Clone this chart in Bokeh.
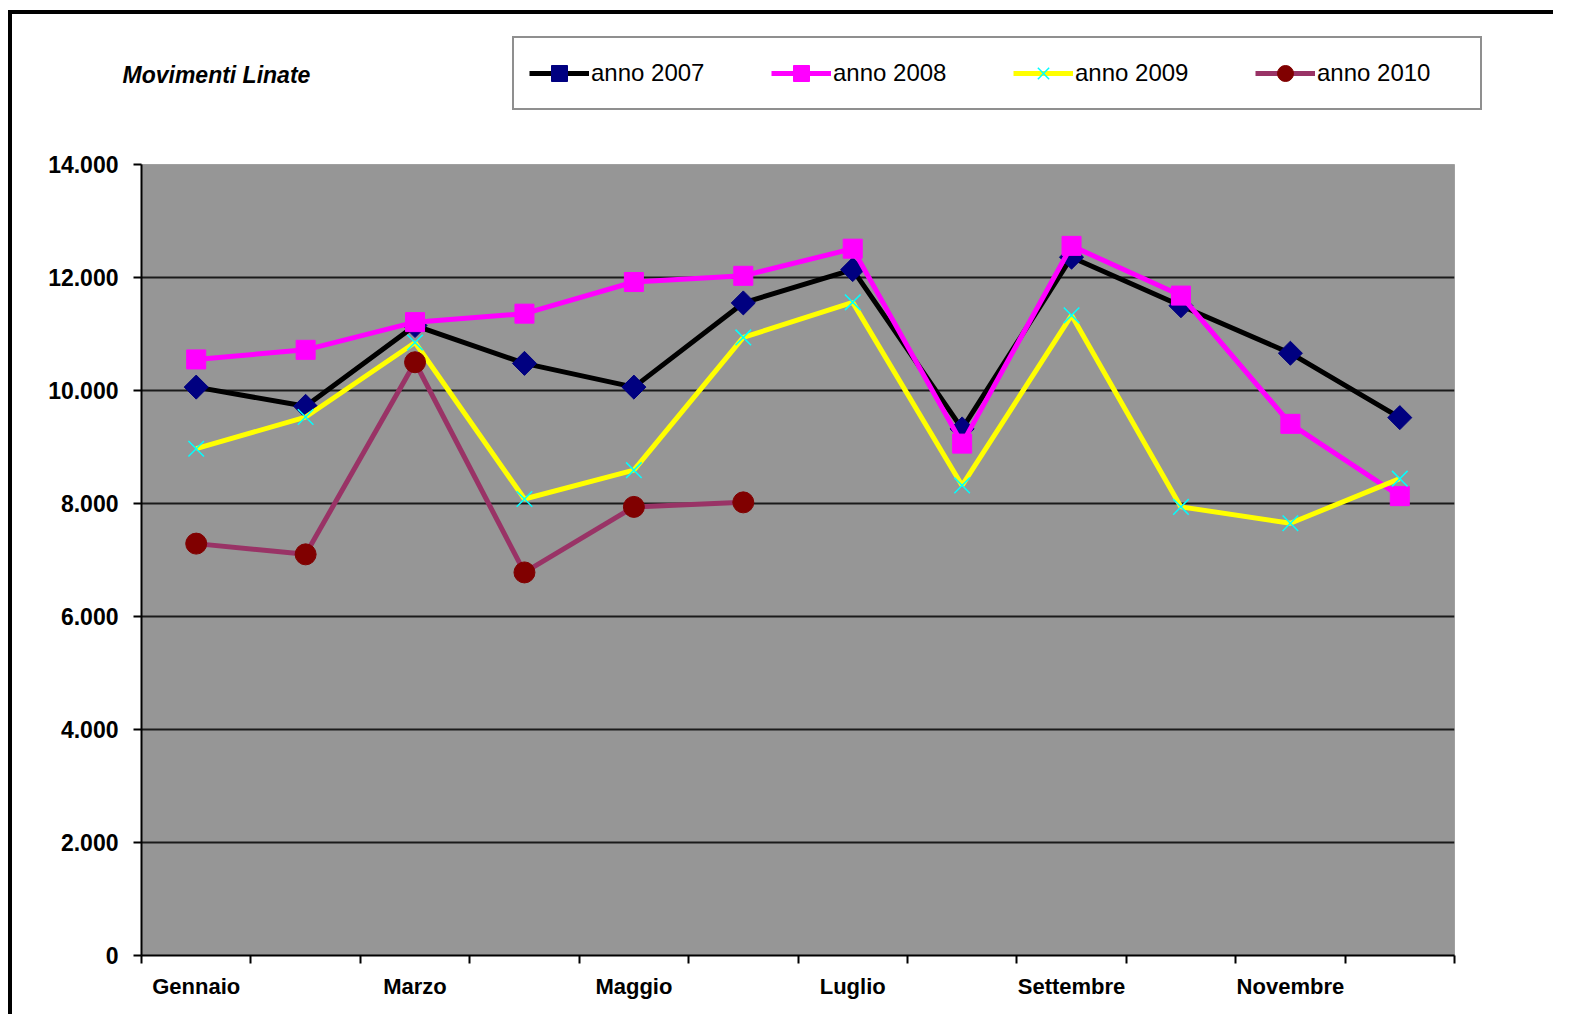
import numpy as np
from bokeh.plotting import figure
from bokeh.models import FixedTicker, Legend, LegendItem, Label, Range1d
from bokeh.embed import file_html
from bokeh.resources import INLINE

# ---- data ----
months = ["Gennaio", "Febbraio", "Marzo", "Aprile", "Maggio", "Giugno",
          "Luglio", "Agosto", "Settembre", "Ottobre", "Novembre", "Dicembre"]
shown_months = ["Gennaio", "Marzo", "Maggio", "Luglio", "Settembre", "Novembre"]
anno_2007 = [10060, 9720, 11150, 10480, 10060, 11550, 12140, 9320, 12360, 11500, 10660, 9520]
anno_2008 = [10550, 10720, 11210, 11360, 11920, 12030, 12510, 9060, 12560, 11680, 9410, 8130]
anno_2009 = [8970, 9530, 10850, 8080, 8590, 10940, 11560, 8320, 11330, 7940, 7650, 8440]
anno_2010 = [7290, 7100, 10500, 6780, 7940, 8020]
y_ticks = [0, 2000, 4000, 6000, 8000, 10000, 12000, 14000]
title_text = "Movimenti Linate"
series_labels = ["anno 2007", "anno 2008", "anno 2009", "anno 2010"]

x_pos = [i + 1 for i in range(len(months))]
FONT = "Liberation Sans"
W = 1545
HEAD_H = 120

series = [
    dict(y=anno_2007, line="black", marker="square", angle=np.pi / 4, size=17, fill="#000080", mline="#000080", lw=0),
    dict(y=anno_2008, line="#ff00ff", marker="square", angle=0, size=19, fill="#ff00ff", mline="#ff00ff", lw=0),
    dict(y=anno_2009, line="#ffff00", marker="x", angle=0, size=22, fill=None, mline="#00ffff", lw=1.5),
    dict(y=anno_2010, line="#993366", marker="circle", angle=0, size=21, fill="#800000", mline="#800000", lw=0),
]


def draw(fig, s):
    xs = x_pos[:len(s["y"])]
    ln = fig.line(xs, s["y"], line_color=s["line"], line_width=5)
    kw = dict(marker=s["marker"], angle=s["angle"], size=s["size"], line_color=s["mline"])
    if s["fill"] is not None:
        kw["fill_color"] = s["fill"]
    else:
        kw["line_width"] = s["lw"]
    mk = fig.scatter(xs, s["y"], **kw)
    return ln, mk


# ---- header (title + legend) ----
head = figure(width=W, height=HEAD_H, output_backend="svg", toolbar_location=None,
              x_range=Range1d(0, W), y_range=Range1d(HEAD_H, 0),
              x_axis_type=None, y_axis_type=None, min_border=0,
              outline_line_color=None, background_fill_color="white", border_fill_color="white",
              styles={"border-left": "4px solid black", "border-top": "4px solid black",
                      "margin-left": "8px", "margin-top": "10px"})
head.grid.visible = False
items = []
for s, lab in zip(series, series_labels):
    ln, mk = draw(head, s)  # same styles; lie outside the header's range, used for the legend glyphs
    items.append(LegendItem(label=lab, renderers=[ln, mk]))

legend = Legend(items=items, orientation="horizontal", location=(500, 24),
                border_line_color="#202020", border_line_width=2,
                background_fill_color="white", background_fill_alpha=1,
                padding=15, spacing=32, glyph_width=60, glyph_height=40,
                label_standoff=2, label_width=148, label_height=40, margin=0,
                label_text_font=FONT, label_text_font_size="24px", label_text_color="black")
head.add_layout(legend)
head.add_layout(Label(x=110, y=60, text=title_text,
                      text_font=FONT, text_font_style="bold italic", text_font_size="23px",
                      text_baseline="middle", text_color="black"))

# ---- main chart ----
p = figure(width=W, height=884, output_backend="svg", toolbar_location=None,
           x_range=Range1d(0.5, len(months) + 0.5), y_range=Range1d(0, 14000),
           min_border_left=129, min_border_right=W - 129 - 1313, min_border_top=34, min_border_bottom=59,
           background_fill_color="#969696", border_fill_color="white",
           outline_line_color="#a0a0a0", outline_line_width=1,
           styles={"border-left": "4px solid black", "margin-left": "8px"})

p.xgrid.visible = False
p.ygrid.ticker = FixedTicker(ticks=y_ticks)
p.ygrid.grid_line_color = "#1a1a1a"
p.ygrid.grid_line_width = 2

yax = p.yaxis[0]
yax.ticker = FixedTicker(ticks=y_ticks)
yax.major_label_overrides = {t: f"{t:,}".replace(",", ".") for t in y_ticks}
yax.major_tick_out = 8
yax.major_tick_in = 0
yax.minor_tick_out = 0
yax.minor_tick_in = 0
yax.axis_line_width = 2
yax.major_tick_line_width = 2
yax.major_label_standoff = 15
yax.major_label_text_font = FONT
yax.major_label_text_font_style = "bold"
yax.major_label_text_font_size = "23px"
yax.major_label_text_color = "black"

xax = p.xaxis[0]
xax.ticker = FixedTicker(ticks=x_pos, minor_ticks=[i + 0.5 for i in range(len(months) + 1)])
xax.major_label_overrides = {x: (m if m in shown_months else "") for x, m in zip(x_pos, months)}
xax.major_tick_out = 0
xax.major_tick_in = 0
xax.minor_tick_out = 8
xax.minor_tick_in = 0
xax.minor_tick_line_color = "black"
xax.minor_tick_line_width = 2
xax.axis_line_width = 2
xax.major_label_standoff = 10
xax.major_label_text_font = FONT
xax.major_label_text_font_style = "bold"
xax.major_label_text_font_size = "22px"
xax.major_label_text_color = "black"

for s in series:
    draw(p, s)

open("out.html", "w").write(file_html([head, p], INLINE))
